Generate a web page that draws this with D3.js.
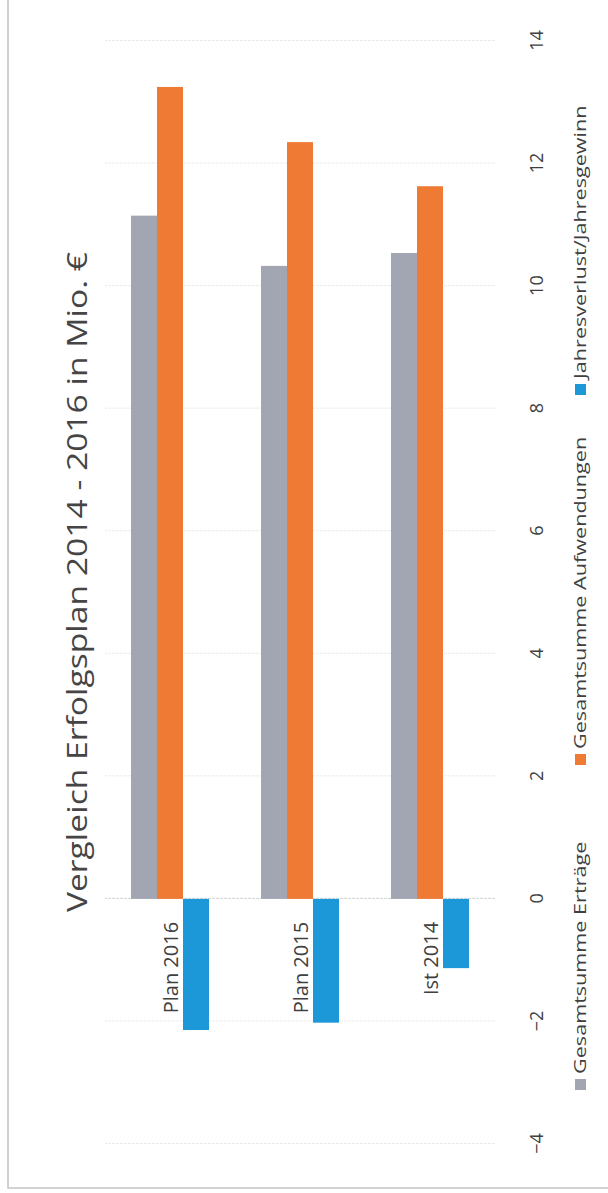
<!DOCTYPE html>
<html>
<head>
<meta charset="utf-8">
<script src="https://cdn.jsdelivr.net/npm/d3@7"></script>
<style>
  body { margin: 0; background: #fff; }
  svg { display: block; }
</style>
</head>
<body>
<div id="chart"></div>
<script>
// chart values
const categories = ["Plan 2016", "Plan 2015", "Ist 2014"];
const seriesNames = ["Gesamtsumme Erträge", "Gesamtsumme Aufwendungen", "Jahresverlust/Jahresgewinn"];
const ertraege = [11.15, 10.33, 10.54];
const aufwendungen = [13.25, 12.35, 11.63];
const ergebnis = [-2.14, -2.02, -1.13];
const tickValues = [-4, -2, 0, 2, 4, 6, 8, 10, 12, 14];
const titleText = "Vergleich Erfolgsplan 2014 - 2016 in Mio. €";

const seriesColors = ["#a1a6b2", "#ee7a34", "#1c98d8"];

const pageW = 608, pageH = 1193;
// drawn as a plain horizontal bar chart, then turned 90° to the left like the scan
const W = pageH, H = pageW;
const font = "'Open Sans', 'Noto Sans', sans-serif";

const svg = d3.select("#chart")
  .append("svg")
  .attr("width", pageW)
  .attr("height", pageH)
  .style("font-family", font);

const g = svg.append("g")
  .attr("transform", `translate(0,${pageH}) rotate(-90)`);

// the scan is stretched along the text direction, so text gets stretched too
function stretch(sel, k) {
  sel.each(function () {
    const len = this.getComputedTextLength();
    d3.select(this)
      .attr("textLength", len * k)
      .attr("lengthAdjust", "spacingAndGlyphs");
  });
}

// outer frame (only two edges show in the scan)
g.append("rect")
  .attr("x", 5).attr("y", 8)
  .attr("width", W + 100).attr("height", H + 100)
  .attr("fill", "none")
  .attr("stroke", "#c4c4c4")
  .attr("stroke-width", 1.5);

const x = d3.scaleLinear().domain([-4, 14]).range([49, 1152]);
const y = d3.scaleBand().domain(categories).range([105, 495]).paddingInner(0.4).paddingOuter(0.2);
const ySub = d3.scaleBand().domain(seriesNames).range([0, y.bandwidth()]);

// grid + value labels
const axis = g.append("g")
  .attr("transform", "translate(0,495)")
  .call(d3.axisBottom(x).tickValues(tickValues).tickSize(-(495 - 105)).tickPadding(35).tickFormat(d3.format("d")));
axis.select(".domain").remove();
axis.selectAll(".tick line")
  .attr("stroke", d => d === 0 ? "#d2d2d2" : "#ebebeb")
  .attr("stroke-dasharray", "3,1");
axis.selectAll(".tick text")
  .attr("fill", "#404040")
  .style("font-size", "18px")
  .style("font-family", font);

const rows = categories.map((c, i) => ({
  cat: c,
  values: [ertraege[i], aufwendungen[i], ergebnis[i]]
}));

const groups = g.append("g")
  .selectAll("g")
  .data(rows)
  .join("g")
  .attr("transform", d => `translate(0,${y(d.cat)})`);

groups.selectAll("rect")
  .data(d => d.values.map((v, k) => ({ name: seriesNames[k], value: v, k: k })))
  .join("rect")
  .attr("x", d => x(Math.min(0, d.value)))
  .attr("width", d => Math.abs(x(d.value) - x(0)))
  .attr("y", d => ySub(d.name))
  .attr("height", ySub.bandwidth())
  .attr("fill", d => seriesColors[d.k]);

// category labels, left of the zero line
g.append("g")
  .selectAll("text")
  .data(categories)
  .join("text")
  .attr("x", x(0) - 23)
  .attr("y", d => y(d) + y.bandwidth() / 2)
  .attr("text-anchor", "end")
  .attr("dominant-baseline", "central")
  .attr("fill", "#404040")
  .style("font-size", "20px")
  .text(d => d);

// title
g.append("text")
  .attr("x", 611)
  .attr("y", 76)
  .attr("text-anchor", "middle")
  .attr("dominant-baseline", "central")
  .attr("fill", "#454545")
  .style("font-size", "28px")
  .text(titleText)
  .call(stretch, 1.2);

// legend
const legendX = [108, 433, 803];
const legend = g.append("g").attr("transform", "translate(0,580)");
const items = legend.selectAll("g")
  .data(seriesNames)
  .join("g")
  .attr("transform", (d, i) => `translate(${legendX[i]},0)`);
items.append("rect")
  .attr("x", -5).attr("y", -5)
  .attr("width", 11).attr("height", 11)
  .attr("fill", (d, i) => seriesColors[i]);
items.append("text")
  .attr("x", 11)
  .attr("dominant-baseline", "central")
  .attr("fill", "#404040")
  .style("font-size", "16px")
  .text(d => d)
  .call(stretch, 1.35);
</script>
</body>
</html>
